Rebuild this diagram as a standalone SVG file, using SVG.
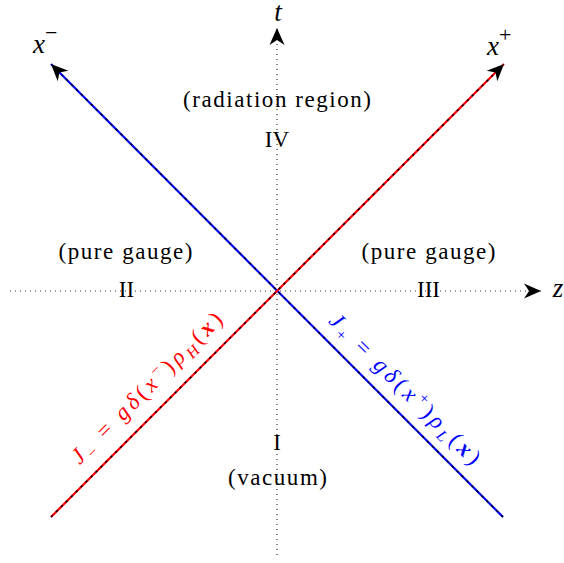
<svg xmlns="http://www.w3.org/2000/svg" width="564" height="563" viewBox="0 0 564 563" font-family="Liberation Serif, serif">
<style>
.lbl{font-family:'Liberation Serif',serif;font-size:23px;fill:#000;text-anchor:middle}
.math{font-family:'Liberation Serif',serif;font-style:italic;font-size:27px;fill:#000}
.axis{stroke:#333;stroke-width:1.2;stroke-dasharray:1 4;fill:none}
.overlay{stroke:#000;stroke-width:1.4;stroke-dasharray:2.5 4.5;fill:none}
.eq{font-family:'Liberation Serif',serif;font-size:23px;text-anchor:middle}
.it{font-style:italic}
</style>
<defs>
<marker id="ah" viewBox="-18 -9 19 18" refX="0" refY="0" markerWidth="19" markerHeight="18" markerUnits="userSpaceOnUse" orient="auto">
<path d="M0,0 L-17,-7.5 L-12,0 L-17,7.5 Z" fill="#000"/>
</marker>
</defs>
<g id="connectors">
<line id="z-axis" class="axis" x1="10" y1="291" x2="541" y2="291" marker-end="url(#ah)"/>
<line id="t-axis" class="axis" x1="277" y1="555" x2="277" y2="28" marker-end="url(#ah)"/>
<line id="xminus-line" x1="503" y1="517" x2="51" y2="64" stroke="#0000ff" stroke-width="2.2" marker-end="url(#ah)"/>
<line class="overlay" x1="503" y1="517" x2="62" y2="75"/>
<line id="xplus-line" x1="51" y1="517" x2="504" y2="64" stroke="#ff0000" stroke-width="2.2" marker-end="url(#ah)"/>
<line class="overlay" x1="51" y1="517" x2="493" y2="75"/>
</g>
<g id="label-t"><text class="math" x="278" y="21" font-size="22" text-anchor="middle">t</text></g>
<g id="label-z"><text class="math" x="558" y="297" text-anchor="middle">z</text></g>
<g id="label-xminus"><text class="math" x="33" y="53">x<tspan font-style="normal" font-size="22" dy="-13">−</tspan></text></g>
<g id="label-xplus"><text class="math" x="487" y="55">x<tspan font-style="normal" font-size="22" dy="-13">+</tspan></text></g>
<g id="region-IV">
<text class="lbl" x="277" y="107" textLength="188" lengthAdjust="spacing">(radiation region)</text>
<text class="lbl" x="277" y="147">IV</text>
</g>
<g id="region-II">
<text class="lbl" x="125.5" y="259" textLength="134" lengthAdjust="spacing">(pure gauge)</text>
<text class="lbl" x="126.5" y="297">II</text>
</g>
<g id="region-III">
<text class="lbl" x="428.5" y="259" textLength="134" lengthAdjust="spacing">(pure gauge)</text>
<text class="lbl" x="428.5" y="297">III</text>
</g>
<g id="region-I">
<text class="lbl" x="277" y="450">I</text>
<text class="lbl" x="277.5" y="485" textLength="99" lengthAdjust="spacing">(vacuum)</text>
</g>
<g id="label-Jminus">
<text class="eq" fill="#ff0000" transform="translate(151.75,393.25) rotate(-45)" x="0" y="0" textLength="204" lengthAdjust="spacing"><tspan class="it">J</tspan><tspan font-size="16" dy="5">−</tspan><tspan dy="-5"> = </tspan><tspan class="it">gδ</tspan>(<tspan class="it">x</tspan><tspan font-size="16" dy="-9">−</tspan><tspan dy="9">)</tspan><tspan class="it">ρ</tspan><tspan class="it" font-size="16" dy="5">H</tspan><tspan dy="-5">(</tspan><tspan class="it" font-weight="bold">x</tspan>)</text>
</g>
<g id="label-Jplus">
<text class="eq" fill="#0000ff" transform="translate(399.9,394.1) rotate(45)" x="0" y="0" textLength="204" lengthAdjust="spacing"><tspan class="it">J</tspan><tspan font-size="16" dy="5">+</tspan><tspan dy="-5"> = </tspan><tspan class="it">gδ</tspan>(<tspan class="it">x</tspan><tspan font-size="16" dy="-9">+</tspan><tspan dy="9">)</tspan><tspan class="it">ρ</tspan><tspan class="it" font-size="16" dy="5">L</tspan><tspan dy="-5">(</tspan><tspan class="it" font-weight="bold">x</tspan>)</text>
</g>
</svg>
